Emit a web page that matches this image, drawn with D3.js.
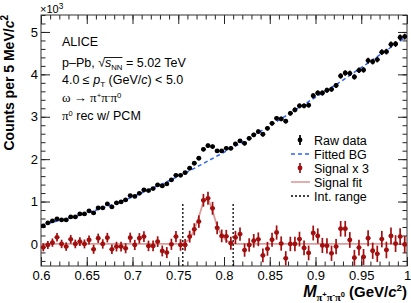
<!doctype html>
<html lang="en">
<head>
  <meta charset="utf-8">
  <title>ALICE omega invariant mass</title>
  <style>
    body { margin: 0; background: #fff; }
    svg { font-family: "Liberation Sans", Arial, Helvetica, sans-serif; }
  </style>
</head>
<body>
  <div id="chart"></div>
  <script src="https://cdn.jsdelivr.net/npm/d3@7"></script>
  <script>
    // Data ------------------------------------------------------------------
    const binWidth = 0.005;
    const binCenters = d3.range(80).map(i => +(0.6025 + i * binWidth).toFixed(4));

    const rawCounts = [
      425, 495, 542, 590, 566, 566, 637, 637, 708, 708,
      778, 731, 849, 849, 943, 873, 967, 991, 1038, 1140,
      1120, 1195, 1274, 1258, 1305, 1392, 1368, 1415, 1509, 1619,
      1619, 1682, 1785, 1903, 2021, 2233, 2319, 2296, 2193, 2193,
      2256, 2256, 2358, 2429, 2374, 2492, 2571, 2649, 2587, 2728,
      2846, 2964, 2948, 2895, 3082, 3160, 3258, 3258, 3274, 3495,
      3560, 3560, 3625, 3648, 3738, 3962, 4032, 4025, 3940, 4096,
      4104, 4324, 4300, 4348, 4524, 4536, 4705, 4717, 4870, 4890
    ];
    const rawErr = [
      21, 22, 23, 24, 24, 24, 25, 25, 27, 27,
      28, 27, 29, 29, 31, 30, 31, 31, 32, 34,
      33, 35, 36, 35, 36, 37, 37, 38, 39, 40,
      40, 41, 42, 44, 45, 47, 48, 48, 47, 47,
      47, 47, 49, 49, 49, 50, 51, 51, 51, 52,
      53, 54, 54, 54, 56, 56, 57, 57, 57, 59,
      60, 60, 60, 60, 61, 63, 63, 63, 63, 64,
      64, 66, 66, 66, 67, 67, 69, 69, 70, 70
    ];

    const signalX3 = [
      -79, -24, 31, 157, 0, -63, 110, 0, 55, 0,
      94, -126, 134, 0, 149, -126, -63, -63, -102, 149,
      -24, 134, 173, -47, -47, 55, -165, -204, -8, 173,
      -24, -24, 173, 346, 527, 1030, 1077, 841, 380, 190,
      180, 16, 153, 232, -145, -24, 75, 110, -270, -114,
      100, 270, 10, -338, 0, 0, 114, -94, -212, 258,
      189, -35, -43, -220, -63, 358, 358, 94, -326, -86,
      -307, 134, -160, -232, 114, -142, 189, 8, 173, -12
    ];
    const signalErr = [
      95, 95, 98, 100, 100, 100, 102, 102, 105, 105,
      108, 108, 110, 110, 112, 112, 115, 115, 118, 118,
      120, 122, 124, 124, 126, 126, 128, 130, 132, 134,
      136, 138, 140, 142, 146, 150, 152, 152, 150, 150,
      152, 152, 154, 156, 156, 158, 160, 162, 162, 164,
      166, 168, 168, 168, 170, 172, 174, 174, 174, 176,
      178, 178, 180, 180, 182, 184, 186, 186, 186, 188,
      188, 190, 192, 192, 194, 196, 198, 198, 200, 200
    ];

    const bgMass = [0.6, 0.625, 0.65, 0.675, 0.7, 0.725, 0.75, 0.775, 0.8,
      0.825, 0.85, 0.875, 0.9, 0.925, 0.95, 0.975, 1.0];
    const bgCounts = [445, 578, 728, 904, 1110, 1348, 1594, 1870, 2163,
      2461, 2790, 3121, 3460, 3795, 4160, 4528, 4900];

    const fitMass = [0.6, 0.7525, 0.7575, 0.7625, 0.7675, 0.7725, 0.7775, 0.7825,
      0.7875, 0.7925, 0.7975, 0.8025, 0.8075, 0.8125, 1.0];
    const fitCounts = [0, 0, 30, 120, 330, 640, 990, 1080, 780, 420, 200, 80, 25, 0, 0];

    const intRange = [0.755, 0.81];
    const intLineTop = 960;

    const xTicks = [0.6, 0.65, 0.7, 0.75, 0.8, 0.85, 0.9, 0.95, 1];
    const xTickLabels = ["0.6", "0.65", "0.7", "0.75", "0.8", "0.85", "0.9", "0.95", "1"];
    const yTicks = [0, 1000, 2000, 3000, 4000, 5000];
    const yTickLabels = ["0", "1", "2", "3", "4", "5"];

    const legendItems = [
      { label: "Raw data", kind: "black" },
      { label: "Fitted BG", kind: "bg" },
      { label: "Signal x 3", kind: "red" },
      { label: "Signal fit", kind: "fit" },
      { label: "Int. range", kind: "range" }
    ];

    // Layout ----------------------------------------------------------------
    const width = 411;
    const height = 303;
    const margin = { top: 15, right: 4, bottom: 37, left: 41 };

    const red = "#a30f0f";
    const blue = "#2f62ff";
    const pink = "#dc9a9a";

    const svg = d3.select("#chart")
      .append("svg")
      .attr("width", width)
      .attr("height", height);

    const x = d3.scaleLinear()
      .domain([0.6, 1.0])
      .range([margin.left, width - margin.right]);

    const y = d3.scaleLinear()
      .domain([-520, 5400])
      .range([height - margin.bottom, margin.top]);

    // rich text helper: parts carry vertical offset (off) and size scale
    function richText(sel, px, py, parts, size) {
      const t = sel.append("text")
        .attr("x", px)
        .attr("y", py)
        .style("font-size", size + "px");
      let shift = 0;
      parts.forEach(p => {
        const target = p.off || 0;
        const ts = t.append("tspan")
          .attr("dy", target - shift)
          .text(p.t);
        shift = target;
        if (p.scale) ts.style("font-size", (p.scale * size) + "px");
        if (p.it) ts.style("font-style", "italic");
        if (p.serif) ts.style("font-family", "'Liberation Serif', 'DejaVu Serif', serif");
      });
      return t;
    }

    // Axes ------------------------------------------------------------------
    const xMinor = d3.range(60, 101).map(d => d / 100);
    const yMinor = d3.range(-2, 28).map(d => d * 200);

    function drawAxis(axis, transform) {
      const g = svg.append("g")
        .attr("transform", transform)
        .call(axis);
      g.select(".domain").remove();
      g.selectAll("line").attr("stroke", "#222");
      return g;
    }

    const atBottom = `translate(0,${height - margin.bottom})`;
    const atTop = `translate(0,${margin.top})`;
    const atLeft = `translate(${margin.left},0)`;
    const atRight = `translate(${width - margin.right},0)`;

    drawAxis(d3.axisBottom(x).tickValues(xMinor).tickSize(-4.5).tickFormat(""), atBottom);
    drawAxis(d3.axisTop(x).tickValues(xMinor).tickSize(-4.5).tickFormat(""), atTop);
    drawAxis(d3.axisTop(x).tickValues(xTicks).tickSize(-9).tickFormat(""), atTop);
    drawAxis(d3.axisLeft(y).tickValues(yMinor).tickSize(-4.5).tickFormat(""), atLeft);
    drawAxis(d3.axisRight(y).tickValues(yMinor).tickSize(-4.5).tickFormat(""), atRight);
    drawAxis(d3.axisRight(y).tickValues(yTicks).tickSize(-9).tickFormat(""), atRight);

    const xAxis = drawAxis(
      d3.axisBottom(x).tickValues(xTicks).tickSize(-9).tickPadding(5)
        .tickFormat((d, i) => xTickLabels[i]),
      atBottom);
    xAxis.selectAll("text")
      .attr("fill", "#000")
      .style("font-size", "13px")
      .style("font-family", "'Liberation Sans', Arial, sans-serif");

    const yAxis = drawAxis(
      d3.axisLeft(y).tickValues(yTicks).tickSize(-9).tickPadding(3)
        .tickFormat((d, i) => yTickLabels[i]),
      atLeft);
    yAxis.selectAll("text")
      .attr("fill", "#000")
      .style("font-size", "13px")
      .style("font-family", "'Liberation Sans', Arial, sans-serif");

    svg.append("rect")
      .attr("x", margin.left)
      .attr("y", margin.top)
      .attr("width", width - margin.left - margin.right)
      .attr("height", height - margin.top - margin.bottom)
      .attr("fill", "none")
      .attr("stroke", "#333")
      .attr("stroke-width", 1);

    // Curves ----------------------------------------------------------------
    const fitLine = d3.line()
      .x((d, i) => x(fitMass[i]))
      .y(d => y(d));

    svg.append("path")
      .attr("d", fitLine(fitCounts))
      .attr("fill", "none")
      .attr("stroke", pink)
      .attr("stroke-width", 1.8);

    const bgLine = d3.line()
      .x((d, i) => x(bgMass[i]))
      .y(d => y(d))
      .curve(d3.curveNatural);

    svg.append("path")
      .attr("d", bgLine(bgCounts))
      .attr("fill", "none")
      .attr("stroke", blue)
      .attr("stroke-width", 1.5)
      .attr("stroke-dasharray", "4,3");

    svg.selectAll(".int-range")
      .data(intRange)
      .enter()
      .append("line")
      .attr("class", "int-range")
      .attr("x1", d => x(d))
      .attr("x2", d => x(d))
      .attr("y1", y(-520))
      .attr("y2", y(intLineTop))
      .attr("stroke", "#000")
      .attr("stroke-width", 1.3)
      .attr("stroke-dasharray", "2,2");

    // Points ----------------------------------------------------------------
    function drawPoints(values, errors, color) {
      const g = svg.append("g");
      const pts = g.selectAll("g")
        .data(values)
        .enter()
        .append("g");
      pts.append("line")
        .attr("x1", (d, i) => x(binCenters[i]))
        .attr("x2", (d, i) => x(binCenters[i]))
        .attr("y1", (d, i) => y(d - errors[i]))
        .attr("y2", (d, i) => y(d + errors[i]))
        .attr("stroke", color)
        .attr("stroke-width", 1.7);
      pts.append("line")
        .attr("x1", (d, i) => x(binCenters[i] - binWidth / 2))
        .attr("x2", (d, i) => x(binCenters[i] + binWidth / 2))
        .attr("y1", d => y(d))
        .attr("y2", d => y(d))
        .attr("stroke", color)
        .attr("stroke-width", 1.7);
      pts.append("circle")
        .attr("cx", (d, i) => x(binCenters[i]))
        .attr("cy", d => y(d))
        .attr("r", 2.4)
        .attr("fill", color);
    }

    drawPoints(rawCounts, rawErr, "#000");
    drawPoints(signalX3, signalErr, red);

    // Titles ----------------------------------------------------------------
    richText(svg, margin.left - 1, 13, [
      { t: "×10" }, { t: "3", off: -4, scale: 0.75 }
    ], 11);

    svg.append("text")
      .attr("transform", `translate(14,${margin.top}) rotate(-90)`)
      .attr("text-anchor", "end")
      .style("font-size", "14px")
      .style("font-weight", "bold")
      .call(t => {
        t.append("tspan").text("Counts per 5 MeV/");
        t.append("tspan").text("c").style("font-style", "italic");
        t.append("tspan").text("2").attr("dy", -6).style("font-size", "10px");
      });

    richText(svg, width - margin.right, 297, [
      { t: "M", it: true, scale: 1.07 },
      { t: "π", off: 4, scale: 0.7, serif: true },
      { t: "+", off: 0, scale: 0.5 },
      { t: "π", off: 4, scale: 0.7, serif: true },
      { t: "-", off: 0, scale: 0.5 },
      { t: "π", off: 4, scale: 0.7, serif: true },
      { t: "0", off: 0, scale: 0.5 },
      { t: " (GeV/" },
      { t: "c", it: true },
      { t: "2", off: -6, scale: 0.65 },
      { t: ")" }
    ], 15)
      .attr("text-anchor", "end")
      .style("font-weight", "bold");

    // Info block ------------------------------------------------------------
    const info = svg.append("g");
    const tx = 62;
    const fs = 12.5;
    richText(info, tx, 46, [{ t: "ALICE" }], fs);
    const energy = richText(info, tx, 67, [
      { t: "p–Pb, " },
      { t: "√" },
      { t: "s", it: true },
      { t: "NN", off: 3, scale: 0.62 },
      { t: " = 5.02 TeV" }
    ], fs);
    richText(info, tx, 84, [
      { t: "4.0 ≤ " },
      { t: "p", it: true },
      { t: "T", off: 3, scale: 0.65 },
      { t: " (GeV/" },
      { t: "c", it: true },
      { t: ") < 5.0" }
    ], fs);
    richText(info, tx, 102, [
      { t: "ω → π", serif: true },
      { t: "+", off: -4, scale: 0.6 },
      { t: "π", serif: true },
      { t: "-", off: -4, scale: 0.6 },
      { t: "π", serif: true },
      { t: "0", off: -4, scale: 0.6 }
    ], 13);
    richText(info, tx, 120, [
      { t: "π", serif: true, scale: 1.04 },
      { t: "0", off: -4, scale: 0.6 },
      { t: " rec w/ PCM" }
    ], fs);

    // overline of the square root
    const en = energy.node();
    const rootBox = en.getExtentOfChar(6);
    const endBox = en.getExtentOfChar(9);
    info.append("line")
      .attr("x1", rootBox.x + rootBox.width - 0.5)
      .attr("x2", endBox.x + endBox.width)
      .attr("y1", rootBox.y + 1.5)
      .attr("y2", rootBox.y + 1.5)
      .attr("stroke", "#000")
      .attr("stroke-width", 0.9);

    // Legend ----------------------------------------------------------------
    const legend = svg.append("g")
      .selectAll("g")
      .data(legendItems)
      .enter()
      .append("g")
      .attr("transform", (d, i) => `translate(300,${140 + i * 14})`);

    legend.append("text")
      .attr("x", 14)
      .attr("y", 4.5)
      .style("font-size", "12.5px")
      .text(d => d.label);

    legend.filter(d => d.kind === "black" || d.kind === "red")
      .call(g => {
        g.append("line")
          .attr("y1", -5).attr("y2", 5)
          .attr("stroke", d => d.kind === "red" ? red : "#000")
          .attr("stroke-width", 1.7);
        g.append("circle")
          .attr("r", 2.4)
          .attr("fill", d => d.kind === "red" ? red : "#000");
      });

    legend.filter(d => d.kind === "bg" || d.kind === "fit" || d.kind === "range")
      .append("line")
      .attr("x1", -9).attr("x2", 10)
      .attr("stroke", d => d.kind === "bg" ? blue : d.kind === "fit" ? pink : "#000")
      .attr("stroke-width", d => d.kind === "range" ? 1.3 : 1.6)
      .attr("stroke-dasharray", d => d.kind === "bg" ? "4,3" : d.kind === "range" ? "2,2" : null);
  </script>
</body>
</html>
